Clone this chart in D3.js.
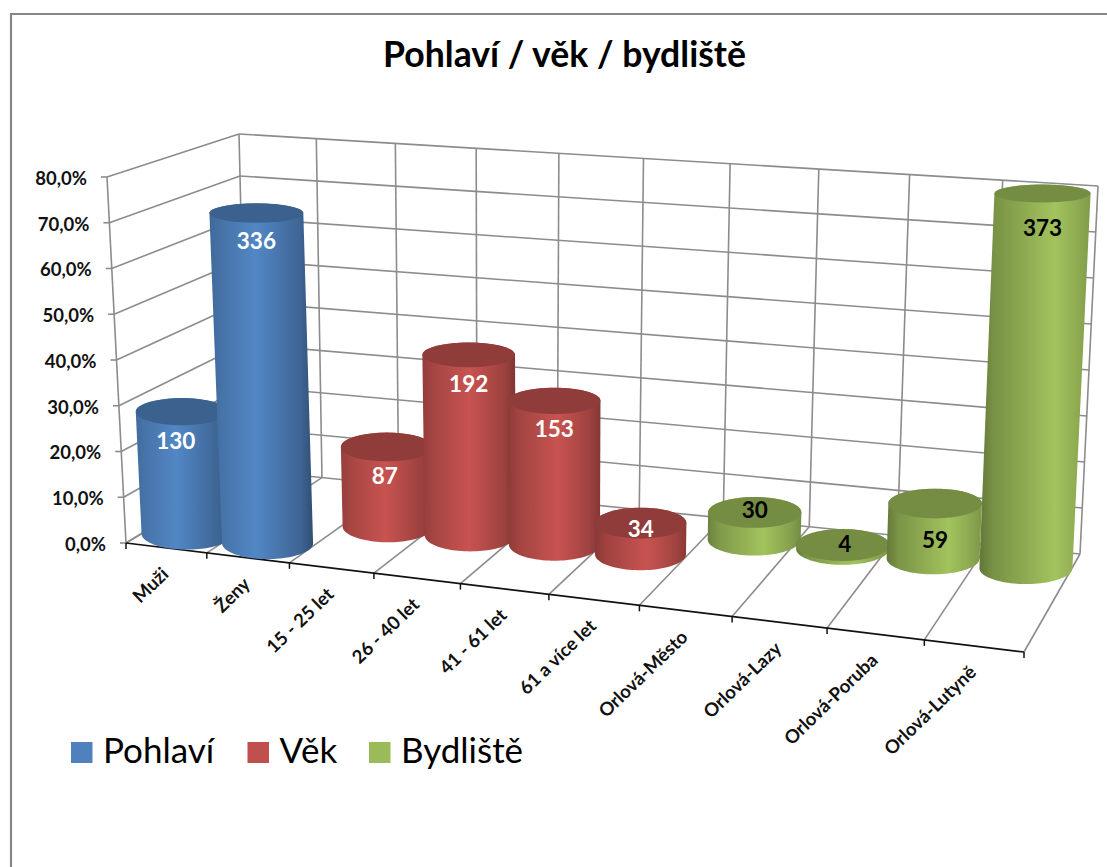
<!DOCTYPE html>
<html>
<head>
<meta charset="utf-8">
<script src="https://cdnjs.cloudflare.com/ajax/libs/d3/7.8.5/d3.min.js"></script>
<style>
  html, body { margin: 0; padding: 0; background: #fff; }
  text { font-family: Lato, "Open Sans", sans-serif; }
</style>
</head>
<body>
<div id="chart"></div>
<script>
// Values
const categories = ["Muži", "Ženy", "15 - 25 let", "26 - 40 let", "41 - 61 let", "61 a více let",
    "Orlová-Město", "Orlová-Lazy", "Orlová-Poruba", "Orlová-Lutyně"];
const counts = [130, 336, 87, 192, 153, 34, 30, 4, 59, 373];
const shares = [27.9, 72.1, 18.7, 41.2, 32.8, 7.3, 6.4, 0.9, 12.7, 80.0];
const seriesOf = [0, 0, 1, 1, 1, 1, 2, 2, 2, 2];
const seriesNames = ["Pohlaví", "Věk", "Bydliště"];
const yTicks = [0, 10, 20, 30, 40, 50, 60, 70, 80];

// Look of the series
const seriesColors = ["#4f81bd", "#c0504d", "#9bbb59"];
const labelColors = ["#fff", "#fff", "#000"];
const seriesOffset = [0.48, 0.505, 0.54];
const seriesDepth = [0.19, 0.53, 0.81];
const seriesRadius = [45.5, 45.5, 46.5];
// where each count label sits, relative to the top of its cylinder
const labelDx = [-6, 0, -2, 0, 0, 0, 0, 2, 0, 0];
const labelDy = [29, 28, 29, 29, 28, 6, -2, -1, 37, 35];

const width = 1107, height = 867;

const svg = d3.select("#chart").append("svg")
    .attr("width", width)
    .attr("height", height)
    .style("display", "block");

// The frame of the 3D box on the picture: floor and ceiling corners
const floorCorners = [[126, 543], [1024, 652], [1080, 554], [247, 470]];
const topCorners = [[107, 177], [1041, 267], [1098, 186], [239, 134]];

const lerp = (a, b, t) => [a[0] + (b[0] - a[0]) * t, a[1] + (b[1] - a[1]) * t];
const quadMap = q => (t, z) => lerp(lerp(q[0], q[1], t), lerp(q[3], q[2], t), z);
const floorMap = quadMap(floorCorners);
const topMap = quadMap(topCorners);

// Cells get a little wider towards the right, as on the picture
const n = categories.length;
const x = c => 0.89 * c / (n - 0.11 * c);
const y = d3.scaleLinear().domain([0, 80]).range([0, 1]);
// cylinders stand a bit lower than the gridlines say, except the tallest ones
const barY = d3.scaleLinear().domain([0, 15, 45, 80]).range([0, 0.1765, 0.551, 1.013]);
const ry = d3.scaleLinear().domain([0, 80]).range([16, 9]);

function project(c, z, v, scale = y) {
    return lerp(floorMap(x(c), z), topMap(x(c), z), scale(v));
}

// Gridlines
const grid = svg.append("g")
    .attr("fill", "none")
    .attr("stroke", "#8c8c8c")
    .attr("stroke-width", 1.6);
const seg = (a, b) => grid.append("path").attr("d", d3.line()([a, b]));

yTicks.forEach(t => {
    seg(project(0, 0, t), project(0, 1, t));
    seg(project(0, 1, t), project(n, 1, t));
});
d3.range(n + 1).forEach(i => {
    seg(project(i, 0, 0), project(i, 1, 0));
    seg(project(i, 1, 0), project(i, 1, 80));
});
seg(project(0, 0, 0), project(0, 0, 80));

// Value axis ticks and labels
const pct = d3.format(".1f");
const yAxis = svg.append("g");
yAxis.selectAll("line")
    .data(yTicks)
    .join("line")
    .attr("x1", d => project(0, 0, d)[0])
    .attr("x2", d => project(0, 0, d)[0] - 6)
    .attr("y1", d => project(0, 0, d)[1])
    .attr("y2", d => project(0, 0, d)[1])
    .attr("stroke", "#8c8c8c")
    .attr("stroke-width", 1.6);
yAxis.selectAll("text")
    .data(yTicks)
    .join("text")
    .attr("x", d => project(0, 0, d)[0] - 20)
    .attr("y", d => project(0, 0, d)[1])
    .attr("dy", "0.42em")
    .attr("text-anchor", "end")
    .attr("font-size", 18.5)
    .attr("font-weight", 700)
    .attr("fill", "#111")
    .text(d => pct(d).replace(".", ",") + "%");

// Category axis
const xAxis = svg.append("g");
xAxis.append("path")
    .attr("d", d3.line()([project(0, 0, 0), project(n, 0, 0)]))
    .attr("fill", "none")
    .attr("stroke", "#111")
    .attr("stroke-width", 1.7);
xAxis.selectAll("line")
    .data(d3.range(n + 1))
    .join("line")
    .attr("x1", d => project(d, 0, 0)[0])
    .attr("x2", d => project(d, 0, 0)[0])
    .attr("y1", d => project(d, 0, 0)[1])
    .attr("y2", d => project(d, 0, 0)[1] + 6)
    .attr("stroke", "#111")
    .attr("stroke-width", 1.5);
xAxis.selectAll("text")
    .data(categories)
    .join("text")
    .attr("transform", (d, i) => {
        const p = project(i + 0.5, 0, 0);
        return `translate(${p[0] - 1},${p[1] + 23}) rotate(-44)`;
    })
    .attr("dy", "0.35em")
    .attr("text-anchor", "end")
    .attr("font-size", 18.5)
    .attr("font-weight", 700)
    .attr("fill", "#111")
    .text(d => d);

// Cylinders, left to right so that each one covers the previous one
const bars = categories.map((name, i) => {
    const s = seriesOf[i];
    const c = i + seriesOffset[s], z = seriesDepth[s];
    return { i, s, base: project(c, z, 0), top: project(c, z, shares[i], barY), share: shares[i] };
});

function ellipsePoints(center, rx, rY) {
    return d3.range(0, 2 * Math.PI, Math.PI / 48)
        .map(a => [center[0] + rx * Math.cos(a), center[1] + rY * Math.sin(a)]);
}

// Shading: the dark side moves from right to left along the axis
const leftDark = d3.scaleLinear().domain([0, 9]).range([0.5, 1.3]);
const rightDark = d3.scaleLinear().domain([0, 9]).range([1.5, 0.5]);
const highlight = d3.scaleLinear().domain([0, 9]).range([0.42, 0.68]);

const defs = svg.append("defs");
bars.forEach(d => {
    const col = d3.color(seriesColors[d.s]);
    const grad = defs.append("linearGradient").attr("id", `side${d.i}`);
    grad.append("stop").attr("offset", 0).attr("stop-color", col.darker(leftDark(d.i)));
    grad.append("stop").attr("offset", 0.12).attr("stop-color", col.darker(leftDark(d.i) * 0.55));
    grad.append("stop").attr("offset", highlight(d.i)).attr("stop-color", col.brighter(0.12));
    grad.append("stop").attr("offset", 0.88).attr("stop-color", col.darker(rightDark(d.i) * 0.5));
    grad.append("stop").attr("offset", 1).attr("stop-color", col.darker(rightDark(d.i)));
});

const barG = svg.append("g").selectAll("g")
    .data(bars)
    .join("g");
barG.append("path")
    .attr("d", d => {
        const r = seriesRadius[d.s];
        const hull = d3.polygonHull(ellipsePoints(d.base, r, ry(0))
            .concat(ellipsePoints(d.top, r + d.share * 0.02, ry(d.share))));
        return d3.line()(hull) + "Z";
    })
    .attr("fill", d => `url(#side${d.i})`);
barG.append("ellipse")
    .attr("cx", d => d.top[0])
    .attr("cy", d => d.top[1])
    .attr("rx", d => seriesRadius[d.s] + d.share * 0.02)
    .attr("ry", d => ry(d.share))
    .attr("fill", d => d3.color(seriesColors[d.s]).darker(0.8));

// Count labels go above all the cylinders
svg.append("g").selectAll("text")
    .data(bars)
    .join("text")
    .attr("x", d => d.top[0] + labelDx[d.i])
    .attr("y", d => d.top[1] + labelDy[d.i])
    .attr("dy", "0.35em")
    .attr("text-anchor", "middle")
    .attr("font-size", 22.5)
    .attr("font-weight", 700)
    .attr("fill", d => labelColors[d.s])
    .text(d => counts[d.i]);

// Title
svg.append("text")
    .attr("x", 564.5)
    .attr("y", 67)
    .attr("text-anchor", "middle")
    .attr("font-size", 35.6)
    .attr("font-weight", 700)
    .attr("fill", "#000")
    .text("Pohlaví / věk / bydliště");

// Legend
const legendX = d3.scaleOrdinal().domain(seriesNames).range([71, 247.5, 369]);
const legend = svg.append("g").selectAll("g")
    .data(seriesNames)
    .join("g")
    .attr("transform", d => `translate(${legendX(d)},742)`);
legend.append("rect")
    .attr("width", 21.5)
    .attr("height", 21)
    .attr("fill", (d, i) => seriesColors[i]);
legend.append("text")
    .attr("x", 32)
    .attr("y", 21)
    .attr("font-size", 35)
    .attr("fill", "#000")
    .text(d => d);

// Chart frame
svg.append("path")
    .attr("d", d3.line()([[11, height], [11, 14], [width, 14]]))
    .attr("fill", "none")
    .attr("stroke", "#868686")
    .attr("stroke-width", 2.2);
</script>
</body>
</html>
